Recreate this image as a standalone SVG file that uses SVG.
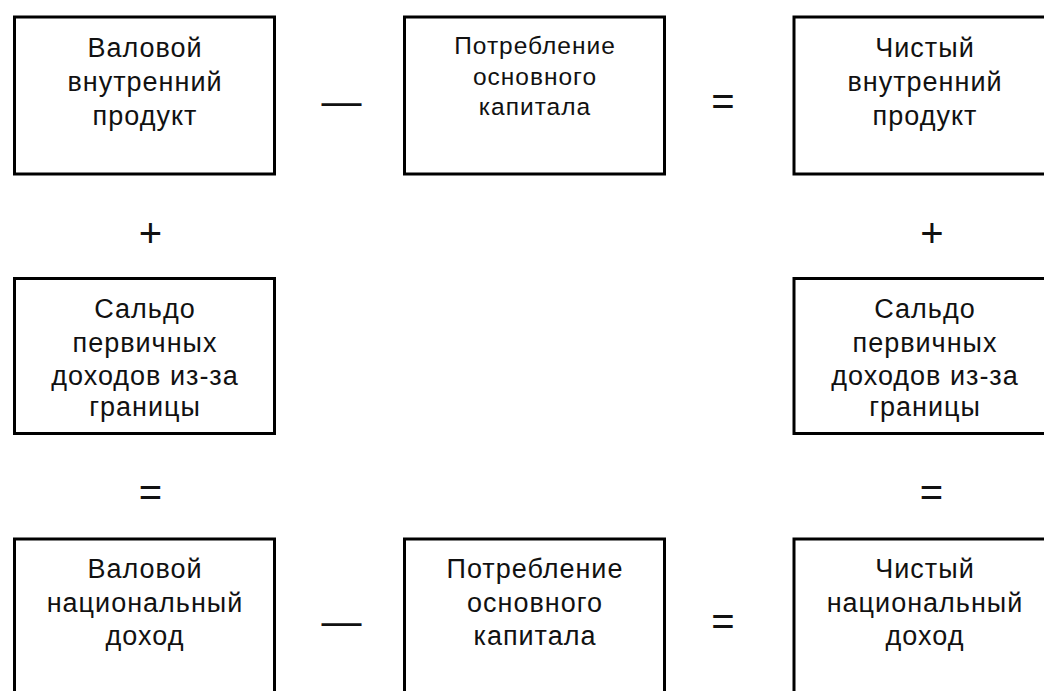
<svg xmlns="http://www.w3.org/2000/svg" width="1044" height="691" viewBox="0 0 1044 691">
<style>
.box{fill:#fff;stroke:#000;stroke-width:3}
.t{font-family:"Liberation Sans",Arial,sans-serif;font-size:27px;letter-spacing:1px;fill:#111;text-anchor:middle}
.ts{font-size:24.5px}
.op{font-family:"Liberation Sans",Arial,sans-serif;font-size:40px;fill:#111;text-anchor:middle}
</style>
<rect width="1044" height="691" fill="#fff"/>
<g id="gdp">
<rect class="box" x="14.5" y="17" width="260" height="157"/>
<text class="t" x="145" y="57">Валовой</text>
<text class="t" x="145" y="91">внутренний</text>
<text class="t" x="145" y="125">продукт</text>
</g>
<g id="cfc-top">
<rect class="box" x="404.5" y="17" width="260" height="157"/>
<text class="t ts" x="535" y="54">Потребление</text>
<text class="t ts" x="535" y="85">основного</text>
<text class="t ts" x="535" y="115">капитала</text>
</g>
<g id="ndp">
<rect class="box" x="794" y="17" width="262" height="157"/>
<text class="t" x="925" y="57">Чистый</text>
<text class="t" x="925" y="91">внутренний</text>
<text class="t" x="925" y="125">продукт</text>
</g>
<g id="balance-left">
<rect class="box" x="14.5" y="278.5" width="260" height="155"/>
<text class="t" x="145" y="318">Сальдо</text>
<text class="t" x="145" y="352">первичных</text>
<text class="t" x="145" y="385">доходов из-за</text>
<text class="t" x="145" y="416">границы</text>
</g>
<g id="balance-right">
<rect class="box" x="794" y="278.5" width="262" height="155"/>
<text class="t" x="925" y="318">Сальдо</text>
<text class="t" x="925" y="352">первичных</text>
<text class="t" x="925" y="385">доходов из-за</text>
<text class="t" x="925" y="416">границы</text>
</g>
<g id="gni">
<rect class="box" x="14.5" y="539" width="260" height="170"/>
<text class="t" x="145" y="578">Валовой</text>
<text class="t" x="145" y="612">национальный</text>
<text class="t" x="145" y="645">доход</text>
</g>
<g id="cfc-bottom">
<rect class="box" x="404.5" y="539" width="260" height="170"/>
<text class="t" x="535" y="578">Потребление</text>
<text class="t" x="535" y="612">основного</text>
<text class="t" x="535" y="645">капитала</text>
</g>
<g id="nni">
<rect class="box" x="794" y="539" width="262" height="170"/>
<text class="t" x="925" y="578">Чистый</text>
<text class="t" x="925" y="612">национальный</text>
<text class="t" x="925" y="645">доход</text>
</g>
<g id="connectors">
<text class="op" x="341.5" y="115">—</text>
<text class="op" x="723" y="115">=</text>
<text class="op" x="150.5" y="246.5">+</text>
<text class="op" x="932" y="246.5">+</text>
<text class="op" x="150.5" y="505.5">=</text>
<text class="op" x="931.5" y="505.5">=</text>
<text class="op" x="341.5" y="635">—</text>
<text class="op" x="723" y="635">=</text>
</g>
</svg>
